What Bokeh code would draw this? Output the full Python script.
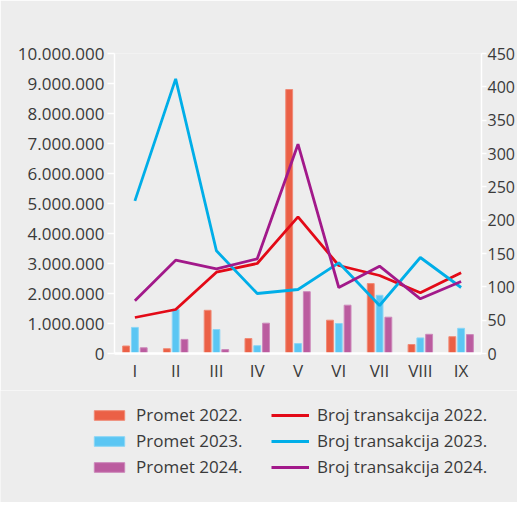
from bokeh.plotting import figure
from bokeh.layouts import column
from bokeh.models import (ColumnDataSource, FactorRange, Range1d, LinearAxis, CategoricalAxis,
                          FixedTicker, Legend, LegendItem)
from bokeh.transform import dodge
from bokeh.embed import file_html
from bokeh.resources import INLINE

months = ["I", "II", "III", "IV", "V", "VI", "VII", "VIII", "IX"]
promet_2022 = [250000, 160000, 1440000, 500000, 8800000, 1110000, 2330000, 300000, 560000]
promet_2023 = [870000, 1470000, 800000, 260000, 330000, 1000000, 1940000, 520000, 840000]
promet_2024 = [190000, 470000, 130000, 1010000, 2060000, 1610000, 1210000, 640000, 630000]
broj_2022 = [54, 66, 122, 135, 205, 132, 117, 91, 121]
broj_2023 = [229, 412, 154, 90, 96, 136, 72, 144, 99]
broj_2024 = [79, 140, 127, 142, 314, 99, 131, 82, 108]

left_ticks = [0, 1000000, 2000000, 3000000, 4000000, 5000000, 6000000, 7000000, 8000000, 9000000, 10000000]
left_tick_labels = ["0", "1.000.000", "2.000.000", "3.000.000", "4.000.000", "5.000.000",
                    "6.000.000", "7.000.000", "8.000.000", "9.000.000", "10.000.000"]
right_ticks = [0, 50, 100, 150, 200, 250, 300, 350, 400, 450]

bar_labels = ["Promet 2022.", "Promet 2023.", "Promet 2024."]
line_labels = ["Broj transakcija 2022.", "Broj transakcija 2023.", "Broj transakcija 2024."]

BG = "#ededed"
FONT = "Open Sans"
TXT = "#3a3a3a"
bar_colors = ["#eb6046", "#5bc6f3", "#bb5c9f"]
bar_edges = ["#f08a76", "#8ad6f6", "#cc87ba"]
line_colors = ["#e30a17", "#00aee8", "#a2198a"]

src = ColumnDataSource(dict(m=months, p22=promet_2022, p23=promet_2023, p24=promet_2024,
                            b22=broj_2022, b23=broj_2023, b24=broj_2024))

p = figure(width=517, height=390, x_range=FactorRange(*months, range_padding=0),
           y_range=Range1d(0, 10000000), output_backend="svg", toolbar_location=None,
           background_fill_color=BG, border_fill_color=BG, outline_line_color=None,
           min_border_left=114, min_border_right=28, min_border_top=53, min_border_bottom=37,
           x_axis_location=None, y_axis_location=None)
p.frame_align = False
p.grid.visible = False
p.extra_y_ranges = {"r": Range1d(0, 450)}

# axes
yl = LinearAxis(ticker=FixedTicker(ticks=left_ticks),
                major_label_overrides={t: l for t, l in zip(left_ticks, left_tick_labels)})
yr = LinearAxis(y_range_name="r", ticker=FixedTicker(ticks=right_ticks))
xa = CategoricalAxis()
for ax in (yl, yr):
    ax.axis_line_color = "white"
    ax.axis_line_width = 1.5
    ax.major_tick_line_color = "white"
    ax.major_tick_line_width = 1.5
    ax.major_tick_out = 7
    ax.major_tick_in = 0
    ax.minor_tick_line_color = None
    ax.major_label_text_font = FONT
    ax.major_label_text_font_size = "17px"
    ax.major_label_text_color = TXT
    ax.major_label_standoff = 3
yr.major_tick_out = 5
yr.major_label_standoff = 1
yr.major_label_text_font_size = "16px"
xa.axis_line_color = "white"
xa.axis_line_width = 2.5
xa.major_tick_line_color = None
xa.major_label_text_font = FONT
xa.major_label_text_font_size = "17px"
xa.major_label_text_color = TXT
xa.major_label_standoff = -1
p.add_layout(yl, "left")
p.add_layout(yr, "right")
p.add_layout(xa, "below")

w = 0.168
off = 0.216
for col, dx, c, e in zip(["p22", "p23", "p24"], [-off, 0, off], bar_colors, bar_edges):
    p.vbar(x=dodge("m", dx, range=p.x_range), top=col, width=w, bottom=0, source=src,
           fill_color=c, line_color=e, line_width=1)

for col, c in zip(["b22", "b23", "b24"], line_colors):
    p.line(x="m", y=col, source=src, y_range_name="r", line_color=c, line_width=2.8)

# legend figure (its renderers hold a single point outside the visible range)
p2 = figure(width=517, height=112, x_range=Range1d(0, 1), y_range=Range1d(0, 1),
            output_backend="svg", toolbar_location=None,
            background_fill_color=BG, border_fill_color=BG, outline_line_color=None,
            min_border_left=0, min_border_right=0, min_border_top=0, min_border_bottom=0,
            x_axis_location=None, y_axis_location=None)
p2.frame_align = False
p2.grid.visible = False
leg_bars = [p2.vbar(x=[-5], top=[-5], bottom=[-6], width=0.1, fill_color=c, line_color=e, line_width=1)
            for c, e in zip(bar_colors, bar_edges)]
leg_lines = [p2.line(x=[-5, -6], y=[-5, -6], line_color=c, line_width=2.8) for c in line_colors]
items = [LegendItem(label=l, renderers=[r]) for l, r in zip(bar_labels, leg_bars)] + \
        [LegendItem(label=l, renderers=[r]) for l, r in zip(line_labels, leg_lines)]
leg = Legend(items=items, ncols=2, location=(90, 24), background_fill_alpha=0,
             border_line_color=None, padding=0, margin=0, spacing=3,
             glyph_width=38, glyph_height=12, label_standoff=8, label_width=132,
             label_text_font=FONT, label_text_font_size="17px", label_text_color=TXT)
p2.add_layout(leg, "center")

open("out.html", "w").write(file_html(column(p, p2, spacing=0), INLINE))
